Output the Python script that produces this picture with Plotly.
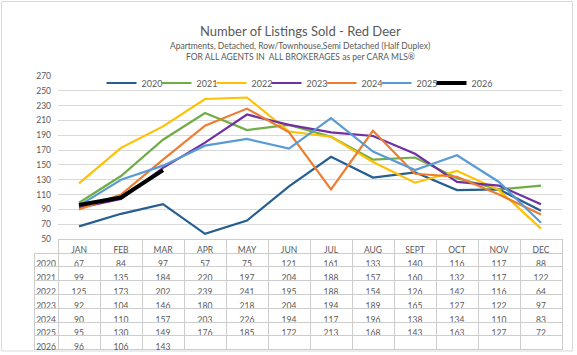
import plotly.graph_objects as go

# ---- data ----
months = ["JAN", "FEB", "MAR", "APR", "MAY", "JUN", "JUL", "AUG", "SEPT", "OCT", "NOV", "DEC"]
years = ["2020", "2021", "2022", "2023", "2024", "2025", "2026"]
sold_2020 = [67, 84, 97, 57, 75, 121, 161, 133, 140, 116, 117, 88]
sold_2021 = [99, 135, 184, 220, 197, 204, 188, 157, 160, 132, 117, 122]
sold_2022 = [125, 173, 202, 239, 241, 195, 188, 154, 126, 142, 116, 64]
sold_2023 = [92, 104, 146, 180, 218, 204, 194, 189, 165, 127, 122, 97]
sold_2024 = [90, 110, 157, 203, 226, 194, 117, 196, 138, 134, 110, 83]
sold_2025 = [95, 130, 149, 176, 185, 172, 213, 168, 143, 163, 127, 72]
sold_2026 = [96, 106, 143, None, None, None, None, None, None, None, None, None]
y_ticks = [50, 70, 90, 110, 130, 150, 170, 190, 210, 230, 250, 270]

series = [sold_2020, sold_2021, sold_2022, sold_2023, sold_2024, sold_2025, sold_2026]
colors = ["#255E91", "#70AD47", "#FFC000", "#7030A0", "#ED7D31", "#5B9BD5", "#000000"]
widths = [2.2, 2.2, 2.2, 2.2, 2.2, 2.2, 4]

# ---- layout geometry (px) ----
W, H = 577, 355
L, R, T, B = 34, 15, 76, 5
plot_left, plot_bottom = 58, 239
pw, ph = W - L - R, H - T - B

def px_x(x):
    return (x - L) / pw

def px_y(y):
    return (H - B - y) / ph

FONT = "Lato"
GREY = "#595959"
GRID = "#D9D9D9"
TABLE_LINE = "#CDCDCD"
CLEAR = "rgba(0,0,0,0)"

fig = go.Figure()
for k, (name, vals, c, w) in enumerate(zip(years, series, colors, widths)):
    fig.add_trace(go.Scatter(x=months, y=vals, name=name, mode="lines",
                             line=dict(color=c, width=w), connectgaps=False,
                             legendwidth=(10 if k < len(years) - 1 else 24),
                             xaxis="x", yaxis="y"))

# helper axis over the table area: gives column separators at month boundaries
fig.add_trace(go.Scatter(x=months, y=[0.5] * len(months), mode="markers",
                         marker=dict(opacity=0, size=1), showlegend=False,
                         hoverinfo="skip", xaxis="x2", yaxis="y2"))

# data table under the chart
header_vals = [""] + months
cell_cols = [years] + [[("" if s[i] is None else str(s[i])) for s in series] for i in range(12)]
fig.add_trace(go.Table(
    domain=dict(x=[0, 1], y=[0, px_y(plot_bottom)]),
    columnwidth=[plot_left - L] + [(W - R - plot_left) / 12] * 12,
    header=dict(values=header_vals, height=14, align="center",
                fill=dict(color=CLEAR),
                line=dict(color=[CLEAR] + [TABLE_LINE] * 12, width=1),
                font=dict(family=FONT, size=8.5, color=GREY)),
    cells=dict(values=cell_cols, height=13.8, align="center",
               fill=dict(color=CLEAR),
               line=dict(color=TABLE_LINE, width=1),
               font=dict(family=FONT, size=8.5, color=GREY)),
))

fig.update_layout(
    width=W, height=H,
    margin=dict(l=L, r=R, t=T, b=B, pad=0, autoexpand=False),
    paper_bgcolor="white", plot_bgcolor="white",
    font=dict(family=FONT, color=GREY),
    showlegend=True,
    legend=dict(orientation="h", x=px_x(301), xanchor="center", y=px_y(83), yanchor="middle",
                font=dict(size=9, color=GREY), bgcolor="rgba(0,0,0,0)",
                traceorder="normal"),
    xaxis=dict(domain=[px_x(plot_left), 1], range=[-0.5, 11.5], showticklabels=False,
               showgrid=False, zeroline=False, showline=False, fixedrange=True),
    yaxis=dict(domain=[px_y(plot_bottom), 1], range=[50, 270], tickvals=y_ticks,
               showgrid=True, gridcolor=GRID, gridwidth=1, zeroline=False, showline=False,
               tickfont=dict(size=8.5, color=GREY), ticklabelstandoff=6),
    xaxis2=dict(domain=[px_x(plot_left), 1], anchor="y2", type="category",
                categoryorder="array", categoryarray=months, range=[-0.5, 11.5],
                tickson="boundaries", showgrid=True, gridcolor=TABLE_LINE, gridwidth=1,
                showticklabels=False, ticks="", zeroline=False, showline=False, fixedrange=True),
    yaxis2=dict(domain=[0, px_y(plot_bottom)], anchor="x2", range=[0, 1],
                showgrid=False, showticklabels=False, ticks="", zeroline=False,
                showline=False, fixedrange=True),
    annotations=[
        dict(text="Number of Listings Sold - Red Deer", xref="paper", yref="paper",
             x=px_x(300), y=px_y(31.5), xanchor="center", yanchor="middle", showarrow=False,
             font=dict(size=13, color=GREY, family=FONT)),
        dict(text="Apartments, Detached, Row/Townhouse,Semi Detached (Half Duplex)", xref="paper", yref="paper",
             x=px_x(300), y=px_y(45.7), xanchor="center", yanchor="middle", showarrow=False,
             font=dict(size=8.5, color=GREY, family=FONT)),
        dict(text="FOR ALL AGENTS IN  ALL BROKERAGES as per CARA MLS®", xref="paper", yref="paper",
             x=px_x(300), y=px_y(56.7), xanchor="center", yanchor="middle", showarrow=False,
             font=dict(size=8.5, color=GREY, family=FONT)),
    ],
    shapes=[dict(type="rect", xref="paper", yref="paper", x0=px_x(1.5), x1=px_x(572.5),
                 y0=px_y(351), y1=px_y(1.5), line=dict(color=GRID, width=1), layer="below")],
)

fig.write_html("out.html", config={"displayModeBar": False},
               post_script="document.body.style.margin='0';")
